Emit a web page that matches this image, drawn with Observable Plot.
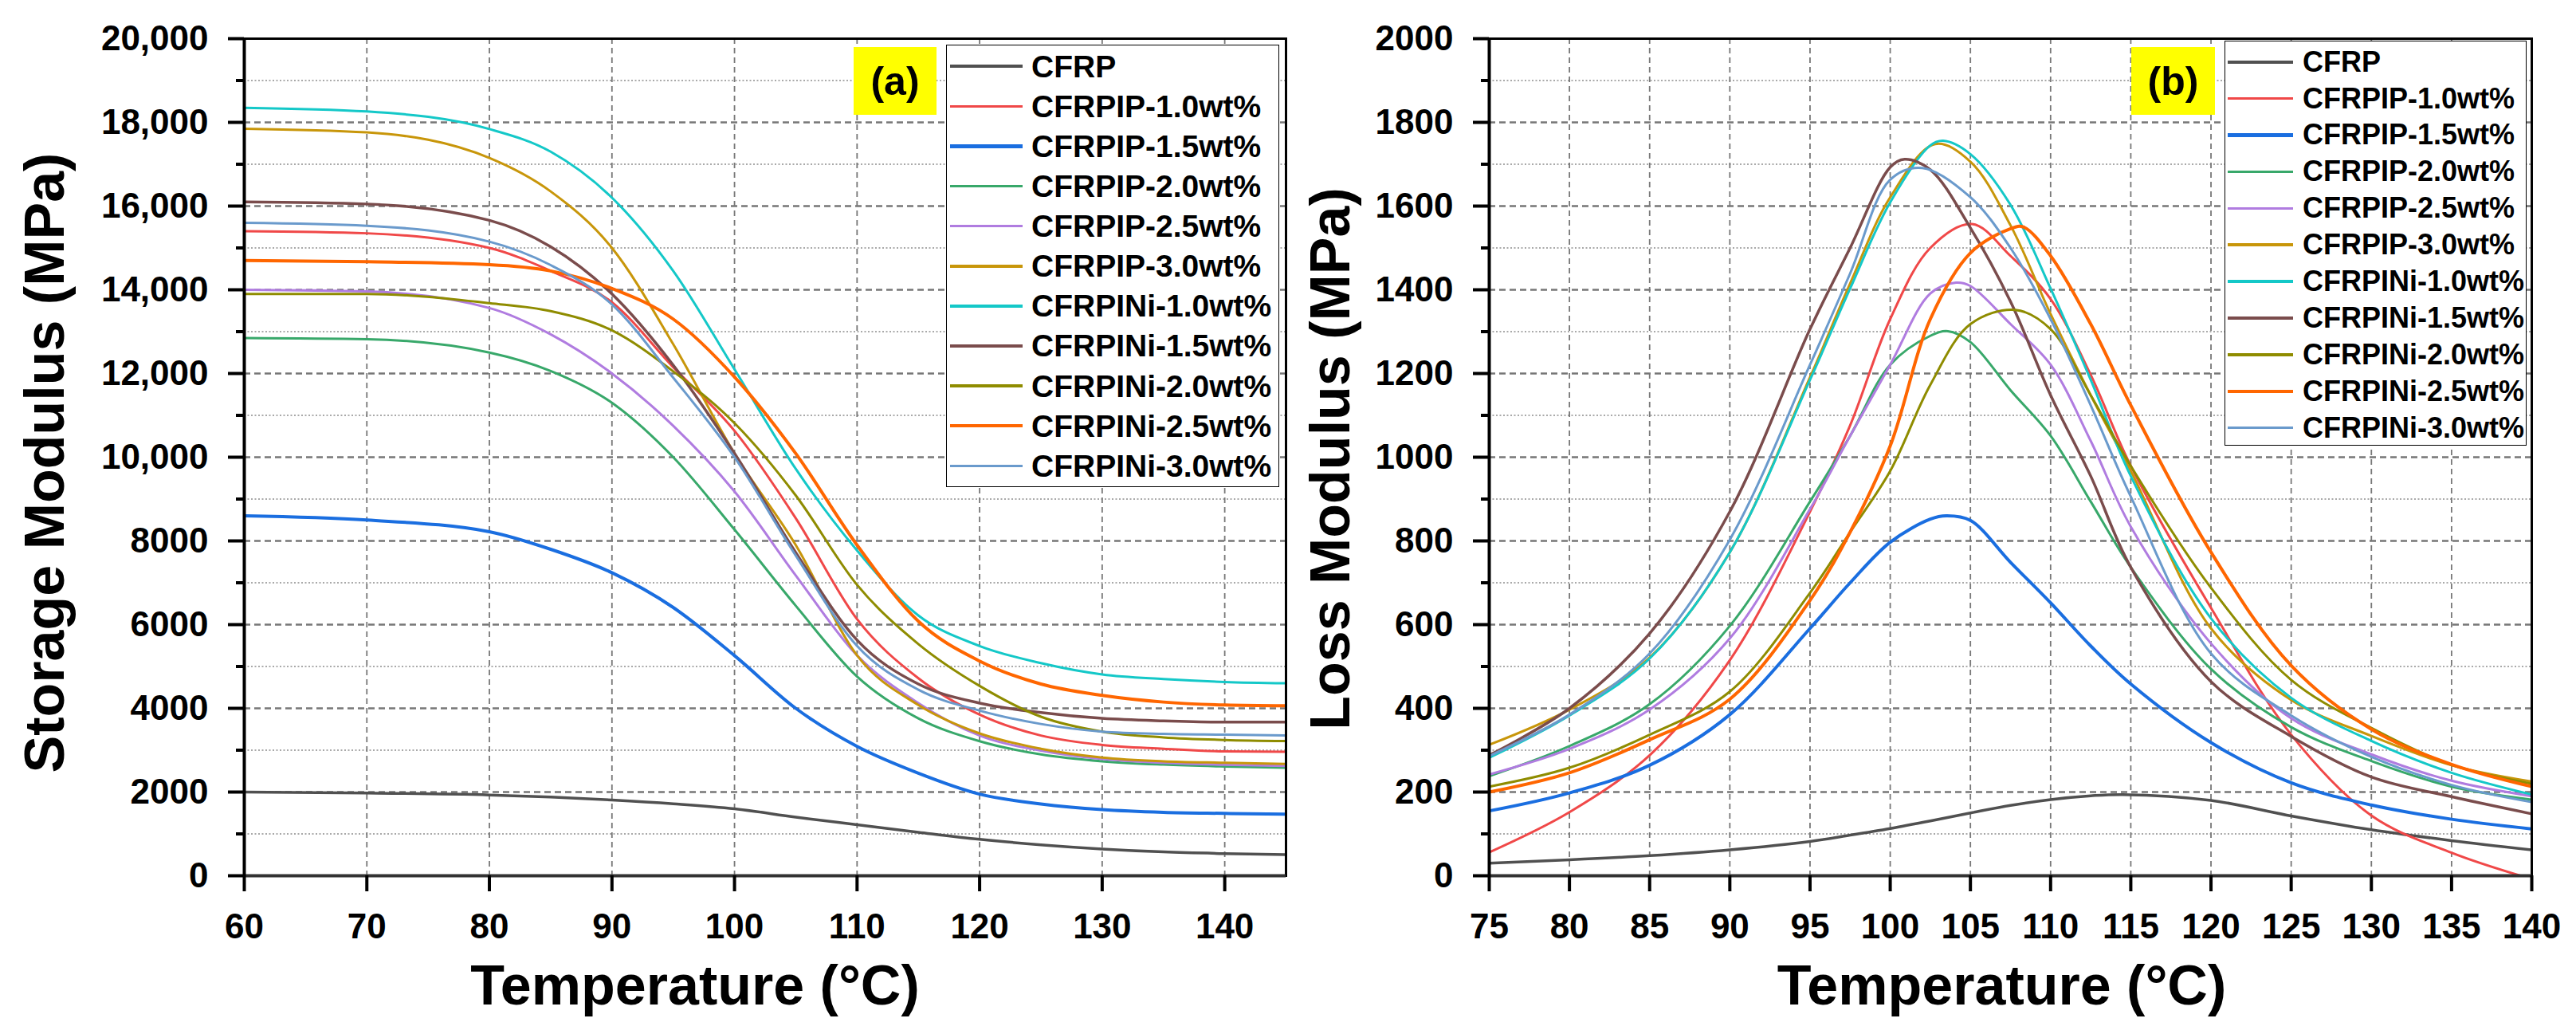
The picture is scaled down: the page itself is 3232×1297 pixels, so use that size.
<!DOCTYPE html>
<html>
<head>
<meta charset="utf-8">
<script src="https://cdn.jsdelivr.net/npm/d3@7"></script>
<script src="https://cdn.jsdelivr.net/npm/@observablehq/plot@0.6"></script>
<style>
  body { margin: 0; background: #fff; }
  #fig { position: relative; width: 3232px; height: 1297px; font-family: "Liberation Sans", Arial, sans-serif; background: #fff; overflow: hidden; }
  .panel { position: absolute; top: 0; }
  .panel svg { overflow: visible; }
  .lbox { position: absolute; box-sizing: border-box; border: 1.5px solid #000; background: #fff; }
  .lrow { position: absolute; display: flex; align-items: center; white-space: nowrap; font-weight: bold; color: #000; }
  .lrow .sw { display: inline-block; }
  .tag { position: absolute; background: #ffff00; display: flex; align-items: center; justify-content: center; font-weight: bold; font-size: 50px; color: #000; }
</style>
</head>
<body>
<div id="fig"></div>
<script>
// ---------------- series ----------------
const seriesNames = ["CFRP","CFRPIP-1.0wt%","CFRPIP-1.5wt%","CFRPIP-2.0wt%","CFRPIP-2.5wt%","CFRPIP-3.0wt%",
  "CFRPINi-1.0wt%","CFRPINi-1.5wt%","CFRPINi-2.0wt%","CFRPINi-2.5wt%","CFRPINi-3.0wt%"];
const seriesColors = ["#505050","#f04848","#1a6ee0","#38a86a","#b07ce0","#c8960a",
  "#14c8c8","#7a4c4c","#8f8c00","#ff6600","#6a9acc"];
const seriesWidths = [3.5,3,4,3,3,3,3,3.5,3,4,3];

// ---------------- (a) storage modulus ----------------
const storageTemp = [60,70,80,85,90,95,100,105,110,115,120,125,130,135,140,145];
const storageCFRP   = [2000,1975,1930,1880,1810,1720,1600,1400,1220,1040,870,740,640,570,530,505];
const storageIP10   = [15400,15350,15000,14450,13700,12150,10630,8540,6130,4720,3850,3350,3125,3035,2970,2960];
const storageIP15   = [8600,8500,8220,7800,7240,6410,5260,4000,3090,2450,1950,1715,1580,1515,1490,1470];
const storageIP20   = [12850,12820,12500,12060,11300,10000,8270,6450,4760,3760,3215,2900,2735,2655,2610,2580];
const storageIP25   = [14000,13960,13565,12935,12000,10750,9180,7175,5264,4125,3350,2990,2790,2700,2650,2625];
const storageIP30   = [17850,17760,17150,16350,15000,12700,10090,7900,5264,4080,3400,3035,2825,2735,2700,2670];
const storageNi10   = [18350,18260,17840,17300,16200,14450,12100,9720,7770,6220,5490,5080,4810,4700,4630,4600];
const storageNi15   = [16100,16050,15660,15030,13900,12200,10090,7720,5630,4580,4125,3900,3760,3700,3670,3670];
const storageNi20   = [13900,13900,13680,13490,13030,12050,10815,9086,6950,5537,4536,3800,3444,3307,3244,3217];
const storageNi25   = [14700,14670,14600,14450,14030,13300,11916,10087,7900,6080,5130,4580,4310,4150,4080,4060];
const storageNi30   = [15600,15530,15150,14590,13650,11900,10000,7650,5490,4445,3945,3626,3444,3390,3370,3350];
const storageValues = [storageCFRP,storageIP10,storageIP15,storageIP20,storageIP25,storageIP30,
  storageNi10,storageNi15,storageNi20,storageNi25,storageNi30];

const storageXTicks = [60,70,80,90,100,110,120,130,140];
const storageYTicks = [0,2000,4000,6000,8000,10000,12000,14000,16000,18000,20000];
const storageYLabels = ["0","2000","4000","6000","8000","10,000","12,000","14,000","16,000","18,000","20,000"];
const storageYMinor = [1000,3000,5000,7000,9000,11000,13000,15000,17000,19000];

// ---------------- (b) loss modulus ----------------
const lossTemp = [75,80,85,90,95,97.5,100,102.5,105,107.5,110,112.5,115,120,125,130,135,140];
const lossCFRP = [30,38,48,62,82,97,113,131,150,168,182,191,194,180,143,110,84,62];
const lossIP10 = [56,152,288,515,870,1076,1330,1500,1557,1481,1378,1197,979,640,337,144,55,-8];
const lossIP15 = [155,198,264,385,591,700,797,852,849,749,652,549,458,318,222,169,135,112];
const lossIP20 = [238,310,410,597,894,1051,1221,1290,1275,1160,1051,894,737,494,355,274,213,182];
const lossIP25 = [242,303,397,567,876,1051,1221,1391,1409,1318,1221,1039,834,555,376,290,227,190];
const lossIP30 = [313,397,521,773,1191,1415,1621,1745,1706,1554,1342,1148,967,591,420,334,264,225];
const lossNi10 = [282,383,519,773,1185,1403,1609,1745,1724,1603,1403,1185,955,615,425,322,246,194];
const lossNi15 = [288,400,579,870,1306,1500,1693,1687,1548,1372,1148,955,737,464,333,236,189,148];
const lossNi20 = [213,258,337,440,676,821,967,1173,1318,1351,1306,1148,979,688,468,353,265,220];
const lossNi25 = [200,246,325,422,658,821,1027,1330,1488,1546,1481,1318,1124,773,502,350,266,213];
const lossNi30 = [286,385,531,803,1221,1439,1663,1687,1621,1500,1330,1124,906,531,383,284,217,176];
const lossValues = [lossCFRP,lossIP10,lossIP15,lossIP20,lossIP25,lossIP30,
  lossNi10,lossNi15,lossNi20,lossNi25,lossNi30];
// peak of each loss curve
const lossPeakTemp  = [114.5,105.1,103.5,103.6,104.1,102.8,103.3,100.9,107.8,108.3,102.0];
const lossPeakValue = [194,1557,860,1301,1417,1748,1756,1712,1352,1550,1691];

const lossXTicks = [75,80,85,90,95,100,105,110,115,120,125,130,135,140];
const lossYTicks = [0,200,400,600,800,1000,1200,1400,1600,1800,2000];
const lossYLabels = ["0","200","400","600","800","1000","1200","1400","1600","1800","2000"];
const lossYMinor = [100,300,500,700,900,1100,1300,1500,1700,1900];

const FONT = '"Liberation Sans", Arial, sans-serif';

function seriesPoints(temp, vals, peakT, peakV) {
  let pts = temp.map((t, i) => ({t, v: vals[i]}));
  if (peakT != null) {
    pts = pts.filter(p => Math.abs(p.t - peakT) >= 0.6);
    pts.push({t: peakT, v: peakV});
    pts.sort((a, b) => a.t - b.t);
  }
  return pts;
}

function makePanel(cfg) {
  const labelMap = new Map(cfg.yTicks.map((d, i) => [d, cfg.yLabels[i]]));
  const lines = seriesNames.map((name, s) =>
    Plot.line(seriesPoints(cfg.temp, cfg.values[s], cfg.peakT ? cfg.peakT[s] : null, cfg.peakV ? cfg.peakV[s] : null),
      {x: "t", y: "v", stroke: seriesColors[s], strokeWidth: seriesWidths[s], curve: cfg.curve, clip: true}));
  const innerMajor = cfg.yTicks.slice(1, -1);
  return Plot.plot({
    width: cfg.width, height: 1297,
    marginLeft: cfg.marginLeft, marginRight: cfg.marginRight, marginTop: 48, marginBottom: 199,
    x: {domain: cfg.xDomain},
    y: {domain: [cfg.yTicks[0], cfg.yTicks[cfg.yTicks.length - 1]]},
    style: {fontFamily: FONT, fontWeight: "bold", background: "transparent", color: "#000", overflow: "visible"},
    marks: [
      Plot.gridY(cfg.yMinor, {stroke: "#a9a9a9", strokeOpacity: 1, strokeWidth: 2, strokeDasharray: "2,2.5"}),
      Plot.gridY(innerMajor, {stroke: "#777", strokeOpacity: 1, strokeWidth: 2.5, strokeDasharray: "8,5"}),
      Plot.gridX(cfg.xTicks, {stroke: "#777", strokeOpacity: 1, strokeWidth: 1.8, strokeDasharray: "7,5"}),
      ...lines,
      Plot.frame({stroke: "#000", strokeWidth: 3}),
      Plot.ruleY([0], {stroke: "#333", strokeWidth: 4}),
      Plot.ruleX([cfg.xDomain[0]], {stroke: "#000", strokeWidth: 4}),
      Plot.axisY(cfg.yMinor, {tickSize: 10, tickFormat: () => "", strokeWidth: 4, label: null}),
      Plot.axisY(cfg.yTicks, {tickSize: 20, tickPadding: 25, strokeWidth: 4, fontSize: 44, fontWeight: "bold",
        tickFormat: d => labelMap.get(d), label: null}),
      Plot.axisX(cfg.xTicks, {tickSize: 20, tickPadding: 27, strokeWidth: 4, fontSize: 44, fontWeight: "bold",
        tickFormat: d => String(d), label: null}),
      Plot.text([cfg.yTitle], {text: d => d, frameAnchor: "left", dx: cfg.yTitleDx, dy: cfg.yTitleDy, rotate: -90,
        fontSize: 70, fontWeight: "bold", textAnchor: "middle", lineAnchor: "middle", fill: "#000"}),
      Plot.text([cfg.xTitle], {text: d => d, frameAnchor: "bottom", dx: cfg.xTitleDx, dy: 139,
        fontSize: 70, fontWeight: "bold", textAnchor: "middle", lineAnchor: "middle", fill: "#000"})
    ]
  });
}

const fig = document.getElementById("fig");

const left = makePanel({
  width: 1616, marginLeft: 306, marginRight: 3, xDomain: [60, 145],
  temp: storageTemp, values: storageValues, curve: "monotone-x",
  xTicks: storageXTicks, yTicks: storageYTicks, yLabels: storageYLabels, yMinor: storageYMinor,
  yTitle: "Storage Modulus (MPa)", yTitleDx: -249, yTitleDy: 7,
  xTitle: "Temperature (°C)", xTitleDx: -88
});
const right = makePanel({
  width: 1616, marginLeft: 252, marginRight: 56, xDomain: [75, 140],
  temp: lossTemp, values: lossValues, peakT: lossPeakTemp, peakV: lossPeakValue, curve: "catmull-rom",
  xTicks: lossXTicks, yTicks: lossYTicks, yLabels: lossYLabels, yMinor: lossYMinor,
  yTitle: "Loss Modulus (MPa)", yTitleDx: -198, yTitleDy: 2,
  xTitle: "Temperature (°C)", xTitleDx: -11
});

const pl = document.createElement("div"); pl.className = "panel"; pl.style.left = "0px"; pl.appendChild(left); fig.appendChild(pl);
const pr = document.createElement("div"); pr.className = "panel"; pr.style.left = "1616px"; pr.appendChild(right); fig.appendChild(pr);

function addLegend(L) {
  const box = document.createElement("div");
  box.className = "lbox";
  Object.assign(box.style, {left: L.x0 + "px", top: L.y0 + "px", width: (L.x1 - L.x0) + "px", height: (L.y1 - L.y0) + "px"});
  fig.appendChild(box);
  seriesNames.forEach((name, i) => {
    const c = L.firstRow + i * L.rowStep;
    const row = document.createElement("div");
    row.className = "lrow";
    Object.assign(row.style, {left: L.lineX0 + "px", top: (c - L.rowStep / 2) + "px", height: L.rowStep + "px", fontSize: L.fontSize + "px", lineHeight: "1"});
    const sw = document.createElement("span");
    sw.className = "sw";
    Object.assign(sw.style, {width: (L.lineX1 - L.lineX0) + "px", height: (seriesWidths[i] + 0.5) + "px", background: seriesColors[i], marginRight: (L.textX - L.lineX1) + "px"});
    const tx = document.createElement("span");
    tx.textContent = name;
    row.appendChild(sw); row.appendChild(tx);
    fig.appendChild(row);
  });
  const tag = document.createElement("div");
  tag.className = "tag";
  tag.textContent = L.tag;
  Object.assign(tag.style, {left: L.tagX + "px", top: "59px", width: L.tagW + "px", height: "85px"});
  fig.appendChild(tag);
}

addLegend({x0: 1187, x1: 1605, y0: 56, y1: 611, firstRow: 83.3, rowStep: 50.1, fontSize: 39,
  lineX0: 1192, lineX1: 1283, textX: 1294, tag: "(a)", tagX: 1071, tagW: 104});
addLegend({x0: 2791, x1: 3170, y0: 51, y1: 559, firstRow: 77.7, rowStep: 45.9, fontSize: 36,
  lineX0: 2795, lineX1: 2877, textX: 2889, tag: "(b)", tagX: 2674, tagW: 105});
</script>
</body>
</html>
